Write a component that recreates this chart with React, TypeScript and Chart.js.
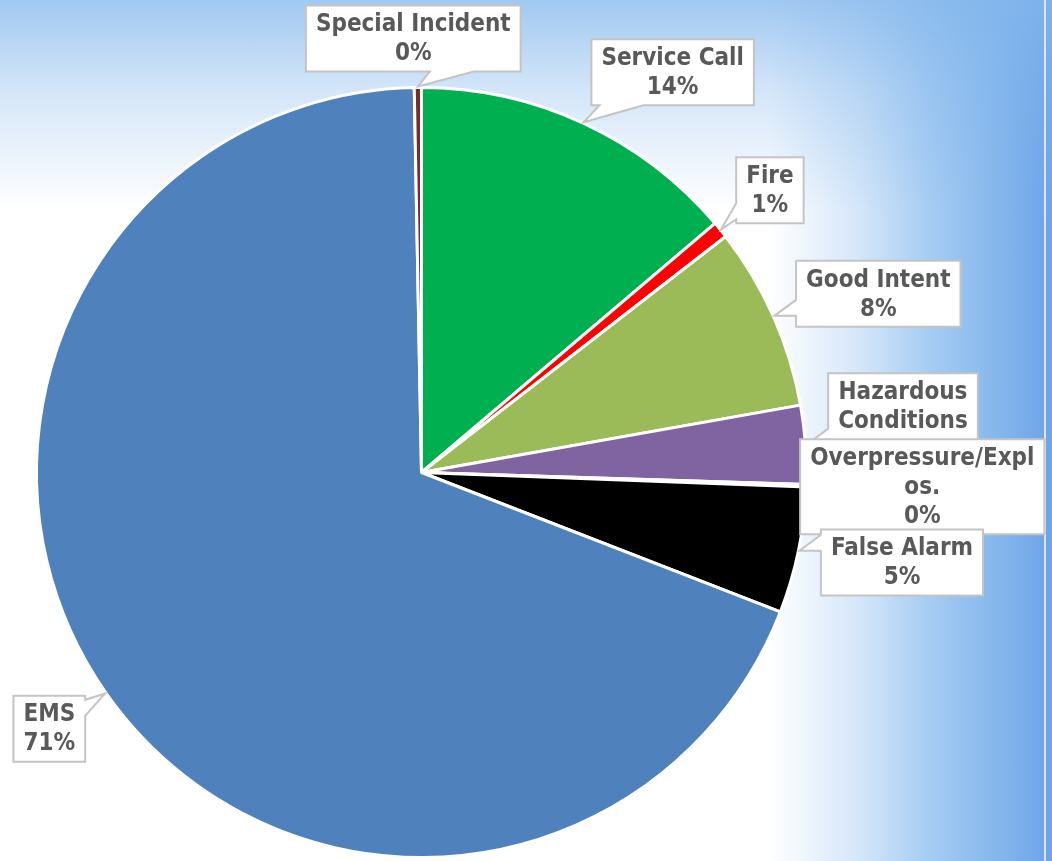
import React, { useEffect, useRef } from "react";
import { Chart, registerables } from "chart.js";

Chart.register(...registerables);

// ---- data ----
const categories = [
  "Service Call",
  "Fire",
  "Good Intent",
  "Hazardous Conditions",
  "Overpressure/Explos.",
  "False Alarm",
  "EMS",
  "Special Incident",
];
const shares = [13.8, 0.7, 7.7, 3.3, 0.1, 5.3, 68.8, 0.3];
const percentLabels = ["14%", "1%", "8%", "3%", "0%", "5%", "71%", "0%"];
const labelLines = [
  ["Service Call"],
  ["Fire"],
  ["Good Intent"],
  ["Hazardous", "Conditions"],
  ["Overpressure/Expl", "os."],
  ["False Alarm"],
  ["EMS"],
  ["Special Incident"],
];

// ---- styles / layout ----
const sliceColors = [
  "#00b050",
  "#ff0000",
  "#9bbb59",
  "#8064a2",
  "#f79646",
  "#000000",
  "#4f81bd",
  "#7b2c2a",
];
// callout box centre offset from the slice's outer mid-point
const labelOffsets: [number, number][] = [
  [89, -50],
  [48.7, -39],
  [104, -22],
  [96.5, -24],
  [115, 1],
  [102.5, 11.7],
  [-55.7, 35.3],
  [-4.6, -48],
];

const FONT = 'bold 24px "DejaVu Sans Condensed", "Open Sans", sans-serif';
const LINE_H = 29;
const BOX_PAD = 8;
const TEXT_COLOR = "#595959";
const BOX_STROKE = "#c4c4c4";

const clamp = (v: number, a: number, b: number) => Math.max(a, Math.min(b, v));

const calloutPlugin = {
  id: "callouts",
  afterDatasetsDraw(chart: any) {
    const ctx: CanvasRenderingContext2D = chart.ctx;
    const meta = chart.getDatasetMeta(0);
    ctx.save();
    ctx.font = FONT;
    meta.data.forEach((arc: any, i: number) => {
      const { x, y, startAngle, endAngle, outerRadius } = arc.getProps(
        ["x", "y", "startAngle", "endAngle", "outerRadius"],
        true
      );
      const mid = (startAngle + endAngle) / 2;
      const tx = x + Math.cos(mid) * (outerRadius + 1);
      const ty = y + Math.sin(mid) * (outerRadius + 1);
      const lines = [...labelLines[i], percentLabels[i]];
      const w = Math.max(...lines.map((s) => ctx.measureText(s).width)) + 20;
      const h = lines.length * LINE_H + BOX_PAD;
      const cx = tx + labelOffsets[i][0];
      const cy = ty + labelOffsets[i][1];
      const l = cx - w / 2, r = cx + w / 2, t = cy - h / 2, b = cy + h / 2;

      const d = { left: l - tx, right: tx - r, top: t - ty, bottom: ty - b };
      let side: string | null = null;
      let best = 0;
      (Object.keys(d) as (keyof typeof d)[]).forEach((k) => {
        if (d[k] > best) {
          best = d[k];
          side = k;
        }
      });

      ctx.beginPath();
      ctx.moveTo(l, t);
      if (side === "top") {
        const x0 = clamp(tx - 12, l + 8, r - 48);
        ctx.lineTo(x0, t);
        ctx.lineTo(tx, ty);
        ctx.lineTo(x0 + 40, t);
      }
      ctx.lineTo(r, t);
      if (side === "right") {
        const y1 = clamp(ty, t + 20, b - 4);
        ctx.lineTo(r, Math.max(t, y1 - 16));
        ctx.lineTo(tx, ty);
        ctx.lineTo(r, y1);
      }
      ctx.lineTo(r, b);
      if (side === "bottom") {
        const x0 = clamp(tx + 12, l + 8, r - 48);
        ctx.lineTo(x0 + 44, b);
        ctx.lineTo(tx, ty);
        ctx.lineTo(x0, b);
      }
      ctx.lineTo(l, b);
      if (side === "left") {
        const y1 = clamp(ty, t + 20, b - 4);
        ctx.lineTo(l, y1);
        ctx.lineTo(tx, ty);
        ctx.lineTo(l, y1 - 16);
      }
      ctx.closePath();
      ctx.fillStyle = "#ffffff";
      ctx.fill();
      ctx.lineWidth = 2;
      ctx.strokeStyle = BOX_STROKE;
      ctx.stroke();

      ctx.fillStyle = TEXT_COLOR;
      ctx.textAlign = "center";
      ctx.textBaseline = "middle";
      const startY = cy - ((lines.length - 1) * LINE_H) / 2;
      lines.forEach((s, k) => ctx.fillText(s, cx, startY + k * LINE_H + 1));
    });
    ctx.restore();
  },
};

export default function App() {
  const ref = useRef<HTMLCanvasElement | null>(null);

  useEffect(() => {
    if (!ref.current) return;
    const chart = new Chart(ref.current, {
      type: "pie",
      data: {
        labels: categories,
        datasets: [
          {
            data: shares,
            backgroundColor: sliceColors,
            borderColor: "#ffffff",
            borderWidth: 3,
          },
        ],
      },
      options: {
        animation: false,
        responsive: false,
        radius: 385,
        layout: { padding: { left: 0, right: 209, top: 84, bottom: 0 } },
        plugins: {
          legend: { display: false },
          tooltip: { enabled: false },
        },
      } as any,
      plugins: [calloutPlugin],
    });
    return () => chart.destroy();
  }, []);

  return (
    <div
      style={{
        position: "absolute",
        left: 0,
        top: 0,
        width: 1052,
        height: 861,
        overflow: "hidden",
        background:
          "linear-gradient(to bottom, rgba(130,182,236,0.75) 0px, rgba(130,182,236,0.35) 90px, rgba(130,182,236,0) 210px), linear-gradient(to right, #ffffff 0px, #ffffff 770px, #d4e6f9 860px, #a6ccf3 930px, #84b6ec 1000px, #6fa5e8 1045px)",
      }}
    >
      <div
        style={{
          position: "absolute",
          left: 1044,
          top: 0,
          width: 2,
          height: 861,
          background: "#dfe4ea",
        }}
      />
      <canvas
        ref={ref}
        width={1052}
        height={861}
        style={{ position: "absolute", left: 0, top: 0, display: "block" }}
      />
    </div>
  );
}
